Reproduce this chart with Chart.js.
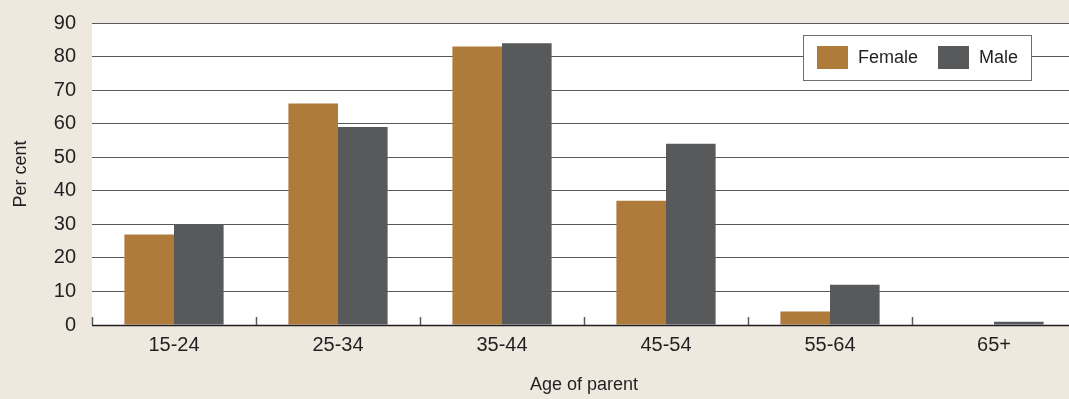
<!DOCTYPE html>
<html>
<head>
<meta charset="utf-8">
<script src="https://cdn.jsdelivr.net/npm/chart.js@4.4.1/dist/chart.umd.min.js"></script>
<style>
  html, body { margin: 0; padding: 0; background: #efe8df; overflow: hidden; }
  #wrap { width: 1076px; height: 399px; }
</style>
</head>
<body>
<div id="wrap"><canvas id="chart" width="1076" height="399"></canvas></div>
<script>
const ageGroups = ['15-24', '25-34', '35-44', '45-54', '55-64', '65+'];
const femaleValues = [27, 66, 83, 37, 4, 0];
const maleValues = [30, 59, 84, 54, 12, 1];
const yTicks = [0, 10, 20, 30, 40, 50, 60, 70, 80, 90];

const FONT = '"Liberation Sans", Arial, sans-serif';
const TEXT = '#231f20';

// white plot background behind the bars
const plotBackground = {
    id: 'plotBackground',
    beforeDraw: (chart) => {
        const { ctx, chartArea: { left, top, right, bottom } } = chart;
        ctx.save(); ctx.fillStyle = '#ffffff'; ctx.fillRect(left, top, right - left, bottom - top); ctx.restore();
    }
};

// short upward tick marks between categories + dark baseline
const categoryTicks = {
    id: 'categoryTicks',
    afterDatasetsDraw: (chart) => {
        const { ctx, chartArea: { left, right, bottom }, scales: { x } } = chart;
        const half = (x.getPixelForValue(1) - x.getPixelForValue(0)) / 2;
        ctx.save();
        ctx.strokeStyle = '#231f20'; ctx.lineWidth = 1.5;
        ctx.beginPath(); ctx.moveTo(left, bottom + 0.5); ctx.lineTo(right, bottom + 0.5); ctx.stroke();
        ctx.strokeStyle = '#b8b4b0'; ctx.lineWidth = 1;
        ctx.beginPath(); ctx.moveTo(left, bottom + 1.5); ctx.lineTo(right, bottom + 1.5); ctx.stroke();
        ctx.strokeStyle = '#58595b'; ctx.lineWidth = 1.5;
        for (let i = 0; i < ageGroups.length; i++) {
            const px = Math.round(x.getPixelForValue(i) - half) + 0.5;
            ctx.beginPath(); ctx.moveTo(px, bottom); ctx.lineTo(px, bottom - 8); ctx.stroke();
        }
        ctx.restore();
    }
};

// boxed legend in the top right of the plot
const boxLegend = {
    id: 'boxLegend',
    afterDraw: (chart) => {
        const { ctx, chartArea: { right, top } } = chart;
        const bx = right - 273, by = top + 12, bw = 228, bh = 45;
        ctx.save();
        ctx.fillStyle = '#ffffff'; ctx.fillRect(bx, by, bw, bh);
        ctx.strokeStyle = '#6d6e70'; ctx.lineWidth = 1; ctx.strokeRect(bx + 0.5, by + 0.5, bw, bh);
        ctx.font = '18px ' + FONT; ctx.textBaseline = 'middle';
        const offsets = [14, 135];
        chart.data.datasets.forEach((ds, i) => {
            ctx.fillStyle = ds.backgroundColor;
            ctx.fillRect(bx + offsets[i], by + 11, 31, 23);
            ctx.fillStyle = TEXT;
            ctx.fillText(ds.label, bx + offsets[i] + 41, by + bh / 2 + 1);
        });
        ctx.restore();
    }
};

new Chart(document.getElementById('chart'), {
    type: 'bar',
    data: {
        labels: ageGroups,
        datasets: [
            { label: 'Female', data: femaleValues, backgroundColor: '#af7b3b', barPercentage: 1, categoryPercentage: 0.605 },
            { label: 'Male', data: maleValues, backgroundColor: '#58595b', barPercentage: 1, categoryPercentage: 0.605 }
        ]
    },
    options: {
        responsive: false, animation: false,
        layout: { padding: { top: 23, right: 0, left: 0, bottom: 0 } },
        scales: {
            x: {
                grid: { display: false, drawTicks: false },
                border: { display: false },
                ticks: { color: TEXT, font: { family: FONT, size: 20 }, padding: 8 },
                title: { display: true, text: 'Age of parent', color: TEXT, font: { family: FONT, size: 18 }, padding: { top: 0, bottom: 3 } },
                afterFit: (s) => { s.height = 74; s.paddingLeft = 0; s.paddingRight = 0; }
            },
            y: {
                min: 0, max: 90,
                afterBuildTicks: (s) => { s.ticks = yTicks.map(v => ({ value: v })); },
                grid: { color: '#58595b', lineWidth: 1, drawTicks: false },
                border: { display: false },
                ticks: { color: TEXT, font: { family: FONT, size: 20 }, padding: 16 },
                title: { display: true, text: 'Per cent', color: TEXT, font: { family: FONT, size: 18 }, padding: { top: 10, bottom: 0 } },
                afterFit: (s) => { s.width = 92; s.paddingTop = 0; s.paddingBottom = 0; }
            }
        },
        plugins: { legend: { display: false }, tooltip: { enabled: false } }
    },
    plugins: [plotBackground, categoryTicks, boxLegend]
});
</script>
</body>
</html>
